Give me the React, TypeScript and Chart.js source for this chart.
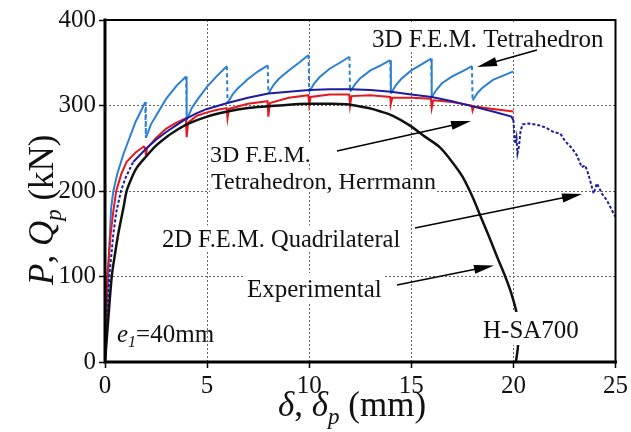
import React, { useEffect, useRef } from 'react';
import { Chart, registerables } from 'chart.js';

Chart.register(...registerables);

// ---------- data ----------
const xTickStep = 5;
const yTickStep = 100;
const xMin = 0, xMax = 25, yMin = 0, yMax = 400;

// Experimental (black)
const expX = [0, 0.08, 0.16, 0.33, 0.5, 0.65, 0.9, 1.06, 1.3, 1.55, 2.0, 2.5, 3.0, 3.5, 4.0, 5.0, 6.0, 7.0, 8.0, 9.0, 10.0, 11.0, 12.0, 12.9, 13.5, 14.1, 14.9, 15.7, 16.4, 17.0, 17.5, 18.0, 18.4, 18.8, 19.2, 19.6, 19.9, 20.15, 20.25, 20.22, 20.12];
const expY = [0, 25, 50, 100, 128, 150, 180, 200, 215, 227, 240, 253, 263, 271, 278, 287, 293, 297, 299, 301, 302, 302, 301, 297, 293, 288, 277, 263, 251, 234, 217, 193, 170, 147, 123, 100, 80, 58, 35, 17, 0];

// 3D F.E.M. Tetrahedron, Herrmann (red)
const herX = [0, 0.05, 0.11, 0.28, 0.4, 0.55, 0.8, 1.06, 1.5, 1.9, 1.97, 2.0, 2.06, 2.5, 3.0, 3.5, 3.96, 4.0, 4.07, 4.5, 5.0, 5.5, 5.96, 6.0, 6.07, 7.0, 7.96, 8.0, 8.07, 9.0, 9.96, 10.0, 10.07, 11.0, 11.96, 12.0, 12.07, 13.0, 13.96, 14.0, 14.07, 15.0, 15.96, 16.0, 16.07, 17.0, 17.96, 18.0, 18.07, 19.0, 20.0];
const herY = [0, 50, 100, 150, 175, 200, 220, 234, 245, 252, 250, 242, 250, 262, 273, 280, 285, 263, 280, 288, 292, 295, 297, 285, 296, 302, 305, 287, 303, 309, 312, 301, 310, 313, 313, 300, 311, 312, 310, 302, 309, 309, 308, 297, 306, 304, 300, 294, 299, 296, 293];

// 2D F.E.M. Quadrilateral (dark blue)
const quadX = [0, 0.1, 0.21, 0.41, 0.55, 0.78, 1.0, 1.38, 2.03, 2.5, 3.0, 3.5, 4.0, 4.5, 5.0, 6.0, 7.0, 8.0, 9.0, 10.0, 11.0, 12.0, 13.0, 14.0, 15.0, 16.0, 17.0, 18.0, 19.0, 19.9, 20.0, 20.05, 20.1, 20.15, 20.2, 20.27, 20.35, 20.45, 20.75, 21.24, 21.6, 21.97, 22.3, 22.54, 22.87, 23.1, 23.35, 23.52, 23.68, 23.93, 24.09, 24.33, 24.58, 24.9, 25.0];
const quadY = [0, 50, 100, 150, 175, 200, 215, 234, 250, 260, 269, 277, 285, 291, 296, 303, 309, 314, 316, 318, 319, 319, 318, 316, 313, 310, 305, 299, 293, 287, 283, 265, 255, 262, 244, 252, 270, 278, 279, 277, 274, 269, 267, 258, 250, 242, 228, 230, 219, 197, 209, 197, 189, 174, 170];

// 3D F.E.M. Tetrahedron (light blue, saw-tooth)
const tetX = [0, 0.1, 0.2, 0.3, 0.41, 0.6, 0.9, 1.2, 1.5, 1.75, 1.97,
  2.0, 2.25, 2.5, 3.0, 3.5, 3.97,
  4.0, 4.25, 4.5, 5.0, 5.5, 5.97,
  6.0, 6.25, 6.5, 7.0, 7.5, 7.97,
  8.0, 8.25, 8.5, 9.0, 9.5, 9.97,
  10.0, 10.25, 10.5, 11.0, 11.5, 11.97,
  12.0, 12.25, 12.5, 13.0, 13.5, 13.97,
  14.0, 14.25, 14.5, 15.0, 15.5, 15.97,
  16.0, 16.25, 16.5, 17.0, 17.5, 17.97,
  18.0, 18.25, 18.5, 19.0, 19.5, 20.0];
const tetY = [0, 60, 130, 180, 200, 220, 243, 262, 281, 293, 304,
  262, 278, 288, 308, 323, 334,
  283, 297, 306, 322, 335, 346,
  303, 313, 320, 331, 340, 347,
  314, 324, 331, 341, 350, 359,
  316, 326, 333, 343, 350, 357,
  316, 325, 332, 341, 347, 353,
  314, 324, 331, 341, 348, 355,
  310, 319, 326, 334, 340, 346,
  306, 315, 321, 330, 335, 340];

const FONT = '"Liberation Serif", "Times New Roman", serif';

const toPts = (xs: number[], ys: number[]) => xs.map((x, i) => ({ x, y: ys[i] }));

type Part = { t: string; italic?: boolean; size: number; dy?: number };

function drawRich(ctx: CanvasRenderingContext2D, parts: Part[], x: number, y: number) {
  let cx = x;
  for (const p of parts) {
    ctx.font = `${p.italic ? 'italic ' : ''}${p.size}px ${FONT}`;
    ctx.fillText(p.t, cx, y + (p.dy || 0));
    cx += ctx.measureText(p.t).width;
  }
}

function arrow(ctx: CanvasRenderingContext2D, x1: number, y1: number, x2: number, y2: number) {
  const a = Math.atan2(y2 - y1, x2 - x1);
  const L = 20, W = 4.5;
  const bx = x2 - L * Math.cos(a), by = y2 - L * Math.sin(a);
  ctx.save();
  ctx.strokeStyle = '#000';
  ctx.fillStyle = '#000';
  ctx.lineWidth = 1.6;
  ctx.beginPath();
  ctx.moveTo(x1, y1);
  ctx.lineTo(bx + 2 * Math.cos(a), by + 2 * Math.sin(a));
  ctx.stroke();
  ctx.beginPath();
  ctx.moveTo(x2, y2);
  ctx.lineTo(bx - W * Math.sin(a), by + W * Math.cos(a));
  ctx.lineTo(bx + W * Math.sin(a), by - W * Math.cos(a));
  ctx.closePath();
  ctx.fill();
  ctx.restore();
}

function boxedText(ctx: CanvasRenderingContext2D, text: string, x: number, y: number, size: number, padT: number, padB: number, padX: number) {
  ctx.font = `${size}px ${FONT}`;
  const w = ctx.measureText(text).width;
  ctx.fillStyle = '#fff';
  ctx.fillRect(x - padX, y - size * 0.72 - padT, w + 2 * padX, size * 0.72 + padT + padB);
  ctx.fillStyle = '#111';
  ctx.fillText(text, x, y);
}

const annotPlugin = {
  id: 'annot',
  afterDatasetsDraw(chart: any) {
    const ctx: CanvasRenderingContext2D = chart.ctx;
    ctx.save();
    ctx.textBaseline = 'alphabetic';
    ctx.textAlign = 'left';
    const fs = 25;
    // top label
    ctx.fillStyle = '#fff';
    ctx.fillRect(368, 22, 240, 29);
    ctx.fillStyle = '#111';
    ctx.font = `${fs}px ${FONT}`;
    ctx.fillText('3D F.E.M. Tetrahedron', 372, 46.5);
    arrow(ctx, 537, 50, 477, 67);

    boxedText(ctx, '3D F.E.M.', 210, 162, 24, 2, 2, 1);
    boxedText(ctx, 'Tetrahedron, Herrmann', 211, 189, 24, 2, 3, 1);
    arrow(ctx, 337, 151, 471, 121);

    boxedText(ctx, '2D F.E.M. Quadrilateral', 162, 247, 24.5, 4, 5, 2);
    arrow(ctx, 415, 228, 582, 194);

    boxedText(ctx, 'Experimental', 247, 297, fs, 6, 7, 2);
    arrow(ctx, 397, 285, 494, 265.5);

    boxedText(ctx, 'H-SA700', 483, 338, fs, 8, 7, 3);

    ctx.fillStyle = '#111';
    drawRich(ctx, [
      { t: 'e', italic: true, size: fs },
      { t: '1', italic: true, size: 16, dy: 5 },
      { t: '=40mm', size: fs },
    ], 117, 342);
    ctx.restore();
  },
  afterDraw(chart: any) {
    const ctx: CanvasRenderingContext2D = chart.ctx;
    const { left, right, top, bottom } = chart.chartArea;
    ctx.save();
    ctx.strokeStyle = '#000';
    ctx.lineCap = 'square';
    ctx.lineWidth = 2;
    ctx.beginPath();
    ctx.moveTo(left, top);
    ctx.lineTo(right, top);
    ctx.lineTo(right, bottom);
    ctx.stroke();
    ctx.lineWidth = 3;
    ctx.beginPath();
    ctx.moveTo(left, top);
    ctx.lineTo(left, bottom);
    ctx.lineTo(right, bottom);
    ctx.stroke();

    // axis titles
    ctx.fillStyle = '#111';
    ctx.textBaseline = 'alphabetic';
    ctx.textAlign = 'left';
    drawRich(ctx, [
      { t: 'δ', italic: true, size: 35 },
      { t: ', ', size: 35 },
      { t: 'δ', italic: true, size: 35 },
      { t: 'p', italic: true, size: 23, dy: 8 },
      { t: ' (mm)', size: 35 },
    ], 278, 416);

    ctx.translate(53, 285);
    ctx.rotate(-Math.PI / 2);
    drawRich(ctx, [
      { t: 'P', italic: true, size: 35 },
      { t: ', ', size: 35 },
      { t: 'Q', italic: true, size: 35 },
      { t: 'p', italic: true, size: 23, dy: 8 },
      { t: ' (kN)', size: 35 },
    ], 0, 0);
    ctx.restore();
  },
};

export default function App() {
  const ref = useRef<HTMLCanvasElement | null>(null);

  useEffect(() => {
    if (!ref.current) return;
    const tickFont = { family: FONT, size: 25 };
    const chart = new Chart(ref.current, {
      type: 'line',
      data: {
        datasets: [
          {
            label: 'Experimental',
            data: toPts(expX, expY),
            borderColor: '#111',
            borderWidth: 2.5,
            pointRadius: 0,
            tension: 0.3,
          },
          {
            label: '2D F.E.M. Quadrilateral',
            data: toPts(quadX, quadY),
            borderColor: '#1c1c9e',
            borderWidth: 2,
            pointRadius: 0,
            tension: 0,
            segment: {
              borderDash: (c: any) => (c.p0.parsed.x < 1.3 || c.p0.parsed.x >= 20 ? [3, 2] : undefined),
            },
          },
          {
            label: '3D F.E.M. Tetrahedron, Herrmann',
            data: toPts(herX, herY),
            borderColor: '#e3191f',
            borderWidth: 2,
            pointRadius: 0,
            tension: 0,
          },
          {
            label: '3D F.E.M. Tetrahedron',
            data: toPts(tetX, tetY),
            borderColor: '#2c7fd2',
            borderWidth: 2,
            pointRadius: 0,
            tension: 0,
            segment: {
              borderDash: (c: any) => (c.p1.parsed.y < c.p0.parsed.y - 15 ? [4, 3] : undefined),
            },
          },
        ],
      },
      options: {
        animation: false,
        responsive: false,
        maintainAspectRatio: false,
        events: [],
        layout: { padding: { left: 0, right: 14, top: 20, bottom: 0 } },
        plugins: { legend: { display: false }, tooltip: { enabled: false } },
        scales: {
          x: {
            type: 'linear',
            min: xMin,
            max: xMax,
            ticks: { stepSize: xTickStep, font: tickFont, color: '#111', padding: 3, maxRotation: 0 },
            grid: { color: '#666', lineWidth: 1, tickColor: '#000', tickLength: 6, tickWidth: 1.5 },
            border: { display: false, dash: [2, 2] },
            afterFit: (s: any) => { s.height = 70; },
          },
          y: {
            type: 'linear',
            min: yMin,
            max: yMax,
            ticks: { stepSize: yTickStep, font: tickFont, color: '#111', padding: 3 },
            grid: { color: '#666', lineWidth: 1, tickColor: '#000', tickLength: 6, tickWidth: 1.5 },
            border: { display: false, dash: [2, 2] },
            afterFit: (s: any) => { s.width = 105; },
          },
        },
      },
      plugins: [annotPlugin],
    } as any);
    return () => chart.destroy();
  }, []);

  return (
    <div style={{ position: 'fixed', left: 0, top: 0, width: 631, height: 432, background: '#fff' }}>
      <canvas ref={ref} width={631} height={432} style={{ width: 631, height: 432, display: 'block' }} />
    </div>
  );
}
